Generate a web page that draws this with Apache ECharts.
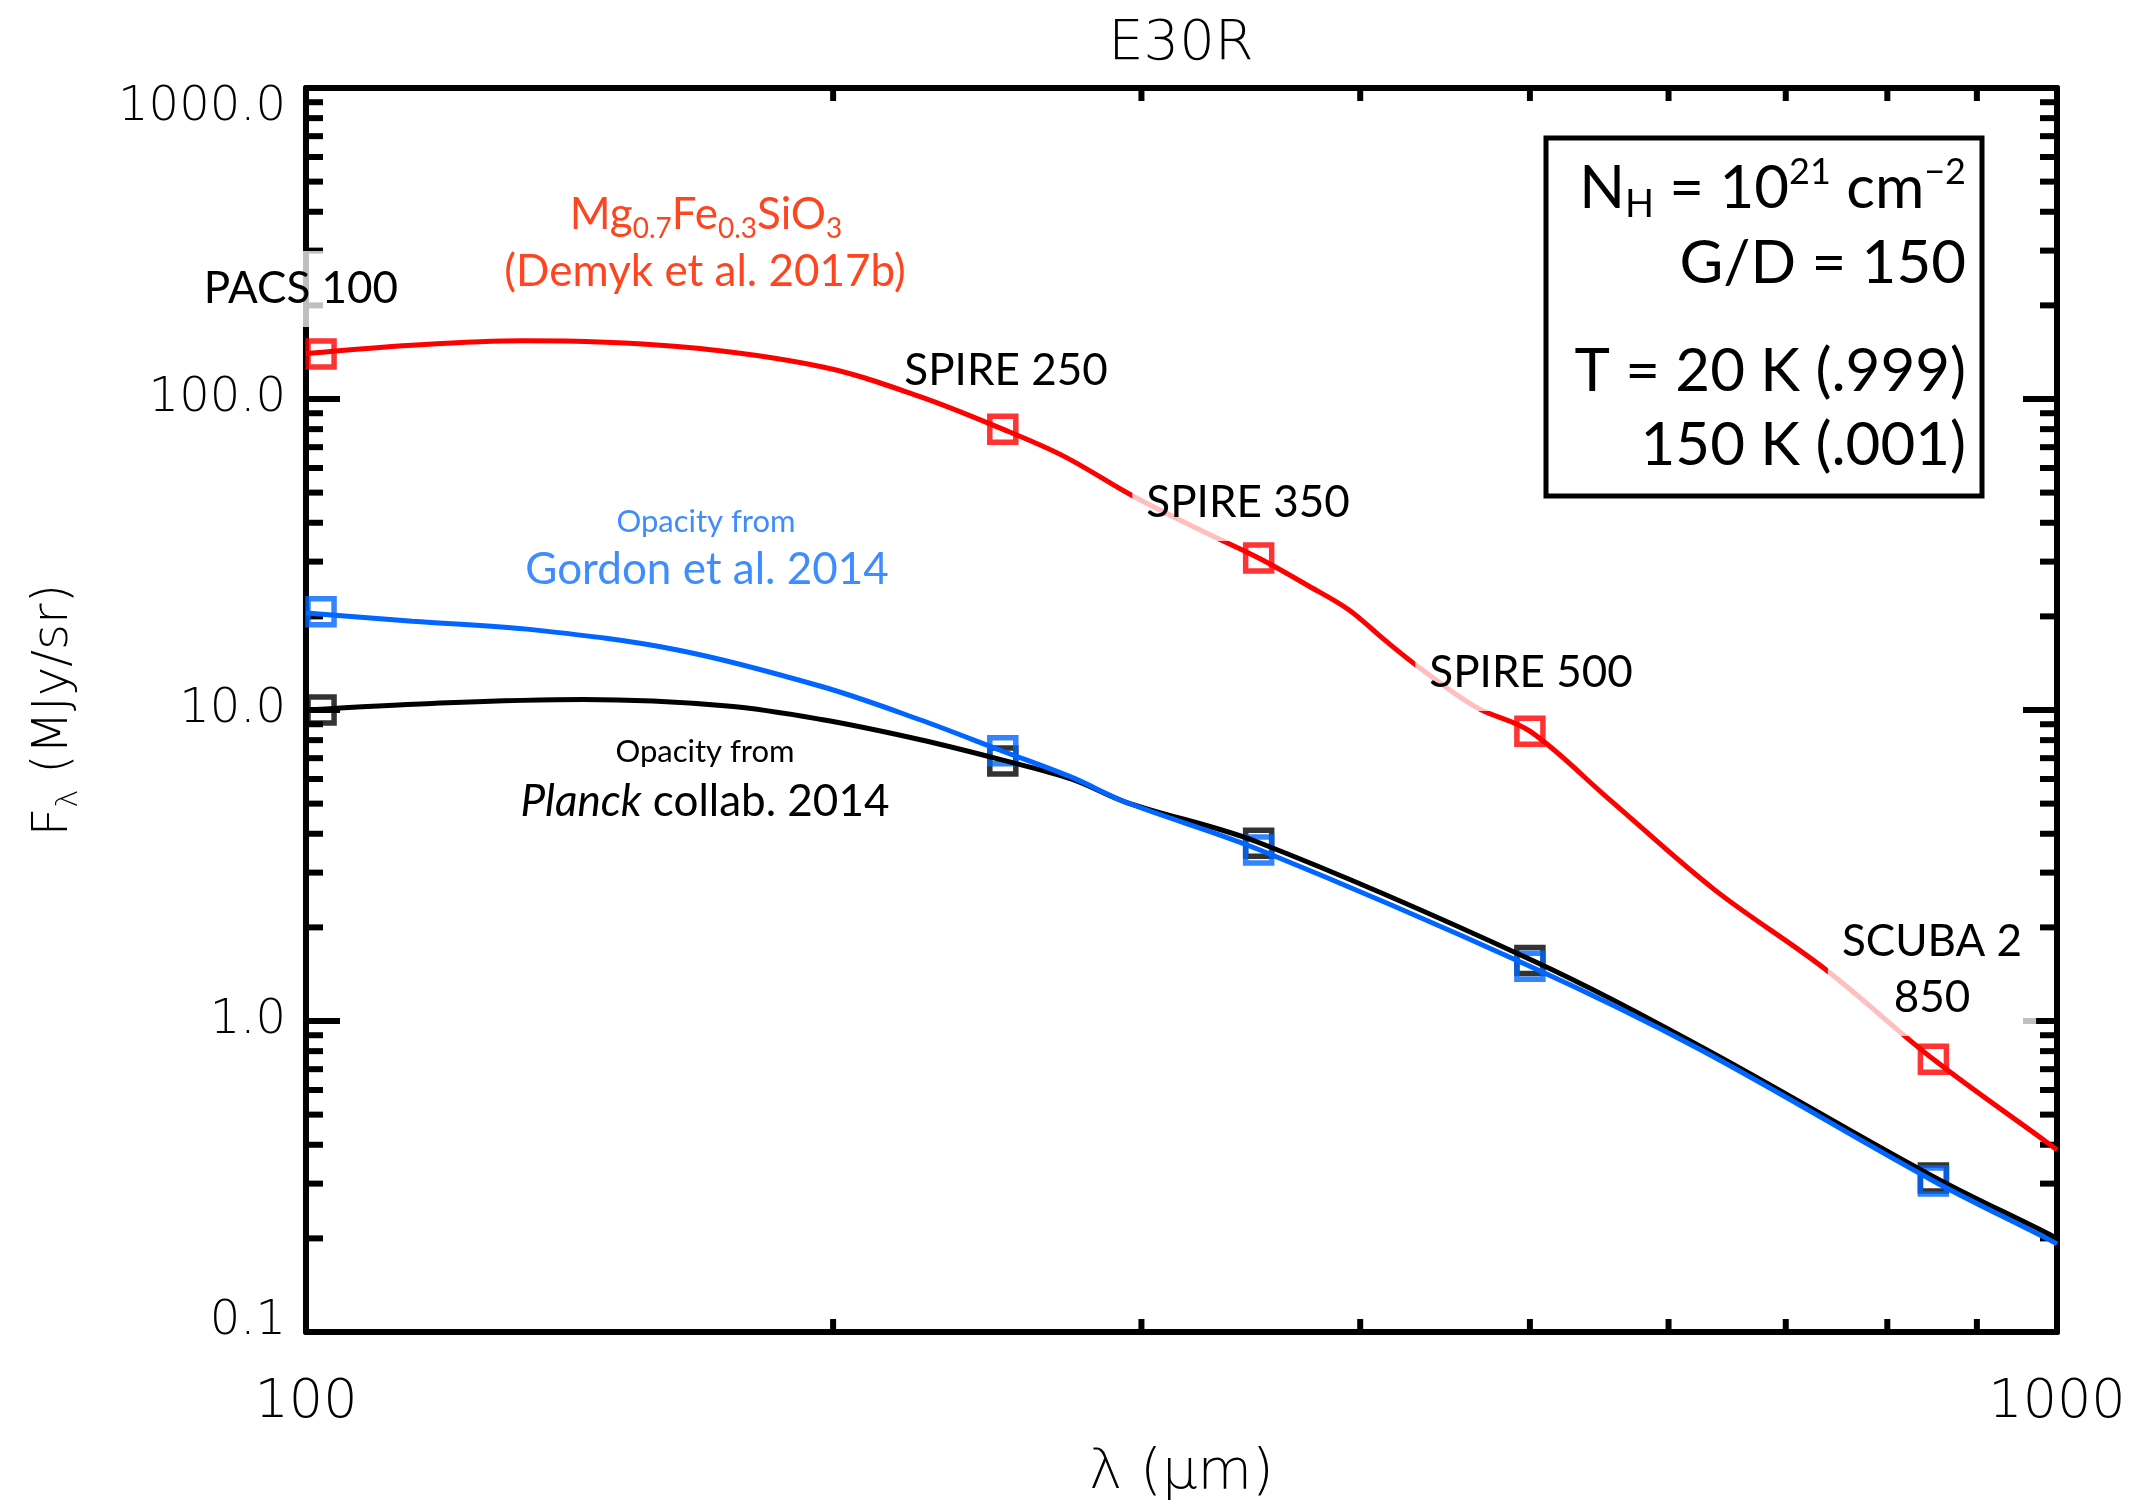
<!DOCTYPE html>
<html>
<head>
<meta charset="utf-8">
<title>E30R</title>
<script src="https://cdn.jsdelivr.net/npm/echarts@6/dist/echarts.min.js"></script>
<style>
html,body{margin:0;padding:0;background:#fff;}
#chart{width:2134px;height:1506px;}
</style>
</head>
<body>
<div id="chart"></div>
<script>
// Model spectra: wavelength (micron) and F_lambda (MJy/sr)
const redWave   = [100, 115, 133, 163, 197, 224, 250, 271, 297, 327, 350, 374, 394, 413, 433, 466, 500, 555, 637, 737, 850, 984, 1000];
const redFlux   = [140, 149, 154, 147.5, 127, 102, 80, 65.4, 48.6, 37.0, 30.8, 25.0, 21.0, 16.8, 13.6, 10.2, 8.55, 5.16, 2.65, 1.47, 0.753, 0.412, 0.385];
const blueWave  = [100, 115, 135, 163, 197, 224, 250, 274, 294, 350, 500, 625, 850, 984, 1000];
const blueFlux  = [20.5, 19.3, 18.1, 15.6, 11.9, 9.32, 7.37, 6.06, 5.05, 3.56, 1.50, 0.811, 0.306, 0.2015, 0.192];
const blackWave = [100, 118, 144, 174, 197, 224, 250, 274, 294, 350, 500, 625, 850, 984, 1000];
const blackFlux = [10.0, 10.5, 10.8, 10.3, 9.32, 8.04, 6.9, 5.98, 5.05, 3.75, 1.58, 0.832, 0.316, 0.2096, 0.1995];

// Band-integrated fluxes (PACS 100, SPIRE 250/350/500, SCUBA-2 850)
const bandWave  = [102, 250, 350, 500, 850];
const redBand   = [139.5, 80, 30.8, 8.55, 0.753];
const blueBand  = [20.7, 7.4, 3.55, 1.50, 0.306];
const blackBand = [10.0, 6.85, 3.73, 1.565, 0.313];

// Axis ranges and minor tick positions
const X_MIN = 100, X_MAX = 1000, Y_MIN = 0.1, Y_MAX = 1000;
const xMinorTicks = [200, 300, 400, 500, 600, 700, 800, 900];
const yMinorTicks = [0.2, 0.3, 0.4, 0.5, 0.6, 0.7, 0.8, 0.9,
                     2, 3, 4, 5, 6, 7, 8, 9,
                     20, 30, 40, 50, 60, 70, 80, 90,
                     200, 300, 400, 500, 600, 700, 800, 900];

const AXIS_FONT = '"DejaVu Sans", sans-serif';
const NOTE_FONT = 'Lato, "Open Sans", sans-serif';
const RED = '#FF0000', BLUE = '#0066FF', BLACK = '#000000';
const RED_TEXT = '#FF4520', BLUE_TEXT = '#3F8CFF';

const zip = (xs, ys) => xs.map((x, i) => [x, ys[i]]);

function curve(name, wave, flux, color) {
  return {
    name, type: 'line', data: zip(wave, flux), smooth: 0.35,
    showSymbol: false, silent: true,
    lineStyle: { color, width: 5 }
  };
}
function squares(name, wave, flux, color) {
  return {
    name, type: 'scatter', data: zip(wave, flux), symbol: 'rect', symbolSize: 26,
    silent: true,
    itemStyle: { color: 'rgba(0,0,0,0)', borderColor: color, borderWidth: 5.5 }
  };
}
// Minor ticks drawn inward on both opposite frame sides
function minorTicks(values, onX, len) {
  return {
    type: 'custom', silent: true,
    data: values.map(v => onX ? [v, Y_MIN] : [X_MIN, v]),
    renderItem(params, api) {
      const st = { stroke: '#000', lineWidth: 6 };
      if (onX) {
        const v = api.value(0);
        const b = api.coord([v, Y_MIN]), t = api.coord([v, Y_MAX]);
        return { type: 'group', children: [
          { type: 'line', shape: { x1: b[0], y1: b[1], x2: b[0], y2: b[1] - len }, style: st },
          { type: 'line', shape: { x1: t[0], y1: t[1], x2: t[0], y2: t[1] + len }, style: st }
        ]};
      }
      const v = api.value(1);
      const l = api.coord([X_MIN, v]), r = api.coord([X_MAX, v]);
      return { type: 'group', children: [
        { type: 'line', shape: { x1: l[0], y1: l[1], x2: l[0] + len, y2: l[1] }, style: st },
        { type: 'line', shape: { x1: r[0], y1: r[1], x2: r[0] - len, y2: r[1] }, style: st }
      ]};
    }
  };
}

const frameLine = { show: true, onZero: false, lineStyle: { color: '#000', width: 6 } };
function xAx(position, withLabels) {
  return {
    type: 'log', logBase: 10, min: X_MIN, max: X_MAX, position,
    axisLine: frameLine,
    axisTick: { show: true, inside: true, length: 24, lineStyle: { color: '#000', width: 6 } },
    splitLine: { show: false },
    axisLabel: withLabels ? {
      show: true, fontFamily: AXIS_FONT, fontWeight: 200, fontSize: 54, color: '#000', margin: 44,
      formatter: v => String(Math.round(v))
    } : { show: false },
    name: withLabels ? 'λ (μm)' : '',
    nameLocation: 'middle', nameGap: 113,
    nameTextStyle: { fontFamily: AXIS_FONT, fontWeight: 200, fontSize: 56, color: '#000' }
  };
}
function yAx(position, withLabels) {
  return {
    type: 'log', logBase: 10, min: Y_MIN, max: Y_MAX, position,
    axisLine: frameLine,
    axisTick: { show: true, inside: true, length: 34, lineStyle: { color: '#000', width: 6 } },
    splitLine: { show: false },
    axisLabel: withLabels ? {
      show: true, fontFamily: AXIS_FONT, fontWeight: 200, fontSize: 48,
      lineHeight: 20, padding: [10, 0, 0, 0],
      color: '#000', margin: 20,
      verticalAlignMaxLabel: 'top', verticalAlignMinLabel: 'bottom',
      formatter: v => Number(v).toFixed(1)
    } : { show: false },
    name: withLabels ? '{a|F}{s|λ}{a| (MJy/sr)}' : '',
    nameLocation: 'middle', nameRotate: 90, nameGap: 222,
    nameTextStyle: {
      color: '#000',
      rich: {
        a: { fontFamily: AXIS_FONT, fontWeight: 200, fontSize: 50, color: '#000', lineHeight: 60 },
        s: { fontFamily: AXIS_FONT, fontWeight: 200, fontSize: 30, color: '#000', lineHeight: 36, verticalAlign: 'bottom' }
      }
    }
  };
}

// Text annotations
const bandLabelBg = 'rgba(255,255,255,0.75)';
function note(x, y, text, opts) {
  return {
    type: 'text', x, y, z: 100, silent: true,
    style: Object.assign({
      text, align: 'center', verticalAlign: 'middle',
      fontFamily: NOTE_FONT, fontSize: 44, fill: '#000'
    }, opts || {})
  };
}
const bandStyle = { backgroundColor: bandLabelBg, padding: [10, 14], lineHeight: 56 };

const graphics = [
  // title
  { type: 'text', x: 1181, y: 44, z: 100, style: { text: 'E30R', align: 'center', verticalAlign: 'middle', fontFamily: AXIS_FONT, fontWeight: 200, fontSize: 56, fill: '#000' } },
  note(301, 289, 'PACS 100', bandStyle),
  note(1006, 371, 'SPIRE 250'),
  note(1248, 503, 'SPIRE 350', bandStyle),
  note(1531, 673, 'SPIRE 500', bandStyle),
  note(1932, 970, 'SCUBA 2\n850', bandStyle),
  note(706, 215, '{m|Mg}{s|0.7}{m|Fe}{s|0.3}{m|SiO}{s|3}', {
    rich: {
      m: { fontFamily: NOTE_FONT, fontSize: 44, fill: RED_TEXT, lineHeight: 56 },
      s: { fontFamily: NOTE_FONT, fontSize: 28, fill: RED_TEXT, lineHeight: 30, verticalAlign: 'bottom' }
    }
  }),
  note(705, 272, '(Demyk et al. 2017b)', { fill: RED_TEXT }),
  note(706, 522, 'Opacity from', { fill: BLUE_TEXT, fontSize: 31 }),
  note(707, 570, 'Gordon et al. 2014', { fill: BLUE_TEXT }),
  note(705, 752, 'Opacity from', { fontSize: 31 }),
  note(705, 802, '{i|Planck}{n| collab. 2014}', {
    rich: {
      i: { fontFamily: NOTE_FONT, fontSize: 44, fontStyle: 'italic', fill: '#000' },
      n: { fontFamily: NOTE_FONT, fontSize: 44, fill: '#000' }
    }
  }),
  // parameter box
  { type: 'rect', z: 100, silent: true, shape: { x: 1546, y: 138, width: 436, height: 358 },
    style: { fill: 'none', stroke: '#000', lineWidth: 5 } },
  note(1966, 189, '{m|N}{sb|H}{m| = 10}{sp|21}{m| cm}{sp|−2}', {
    align: 'right',
    rich: {
      m: { fontFamily: NOTE_FONT, fontSize: 60, fill: '#000', lineHeight: 70 },
      sb: { fontFamily: NOTE_FONT, fontSize: 38, fill: '#000', lineHeight: 44, verticalAlign: 'bottom' },
      sp: { fontFamily: NOTE_FONT, fontSize: 36, fill: '#000', lineHeight: 40, verticalAlign: 'top' }
    }
  }),
  note(1966, 264, 'G/D = 150', { align: 'right', fontSize: 60 }),
  note(1966, 372, 'T = 20 K (.999)', { align: 'right', fontSize: 60 }),
  note(1966, 446, '150 K (.001)', { align: 'right', fontSize: 60 })
];

const chart = echarts.init(document.getElementById('chart'), null, { renderer: 'canvas' });
chart.setOption({
  animation: false,
  backgroundColor: '#fff',
  grid: { left: 306, top: 88, right: 77, bottom: 173, containLabel: false },
  xAxis: [xAx('bottom', true), xAx('top', false)],
  yAxis: [yAx('left', true), yAx('right', false)],
  series: [
    minorTicks(xMinorTicks, true, 13),
    minorTicks(yMinorTicks, false, 17),
    curve('Planck collab. 2014', blackWave, blackFlux, BLACK),
    squares('Planck bands', bandWave, blackBand, BLACK),
    curve('Gordon et al. 2014', blueWave, blueFlux, BLUE),
    squares('Gordon bands', bandWave, blueBand, BLUE),
    curve('Mg0.7Fe0.3SiO3', redWave, redFlux, RED),
    squares('Mg0.7Fe0.3SiO3 bands', bandWave, redBand, RED)
  ],
  graphic: { elements: graphics }
});
</script>
</body>
</html>
